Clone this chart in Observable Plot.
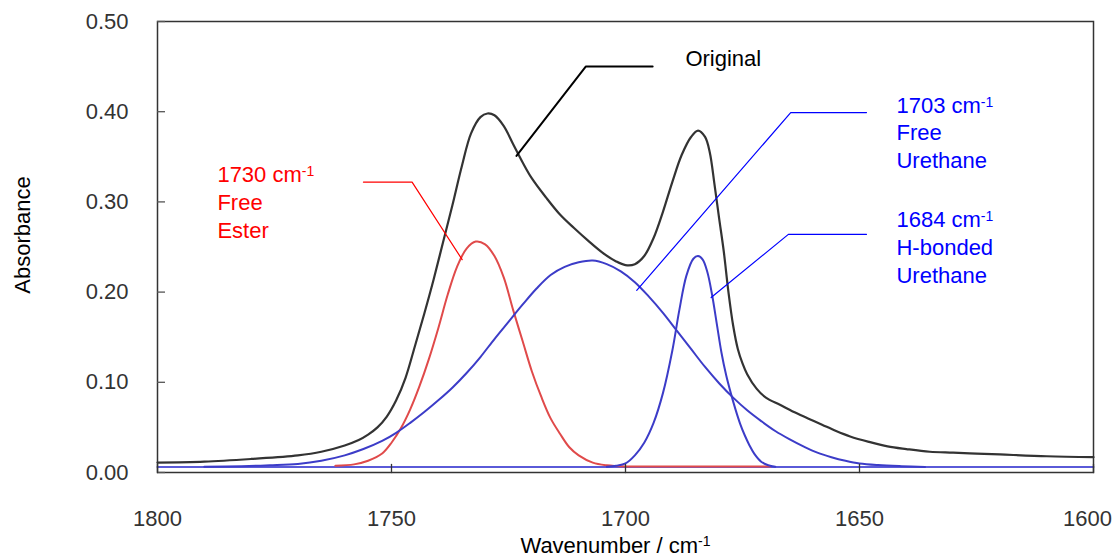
<!DOCTYPE html>
<html><head><meta charset="utf-8">
<script src="https://cdn.jsdelivr.net/npm/d3@7"></script>
<script src="https://cdn.jsdelivr.net/npm/@observablehq/plot@0.6"></script>
<style>body{margin:0;background:#fff}</style>
</head><body><div id="chart"></div>
<script>
// ---- data ----
const xTicks = [1800, 1750, 1700, 1650, 1600];
const yTicks = [0, 0.1, 0.2, 0.3, 0.4, 0.5];

const originalWn  = [1800,1790,1780,1770,1765,1760,1757,1755,1753,1751,1749,1747,1745,1743,1741,1739,1737,1735,1733,1731,1729.5,1728,1726,1724,1722,1720,1717,1714,1711,1708,1705,1702,1700,1698,1696,1694,1692,1690,1688,1686,1684.5,1683,1682,1681,1680,1679,1678,1677,1676,1675,1674,1672,1670,1667,1664,1661,1658,1655,1652,1648,1644,1640,1635,1630,1625,1620,1610,1600];
const originalAbs = [0.011,0.012,0.015,0.019,0.023,0.030,0.036,0.042,0.050,0.062,0.080,0.105,0.140,0.176,0.214,0.255,0.296,0.339,0.376,0.394,0.398,0.396,0.384,0.364,0.344,0.326,0.305,0.286,0.271,0.257,0.244,0.234,0.230,0.231,0.240,0.260,0.289,0.322,0.352,0.372,0.379,0.372,0.355,0.320,0.282,0.245,0.200,0.163,0.137,0.121,0.109,0.093,0.083,0.075,0.067,0.060,0.053,0.046,0.040,0.034,0.029,0.026,0.023,0.022,0.021,0.020,0.018,0.017];

const esterWn  = [1762,1758,1755,1752,1750,1748,1746,1744,1742,1740,1738,1736,1734,1732,1730,1728,1726,1724,1722,1720,1718,1716,1714,1712,1710,1707,1704,1700,1690,1680,1669];
const esterAbs = [0.0075,0.009,0.013,0.021,0.033,0.049,0.070,0.096,0.126,0.160,0.197,0.228,0.248,0.256,0.253,0.240,0.216,0.180,0.146,0.112,0.084,0.060,0.043,0.028,0.019,0.011,0.008,0.0067,0.0067,0.0067,0.0067];

const freeUrethaneWn  = [1790,1782,1776,1770,1765,1760,1756,1752,1749,1746,1743,1740,1737,1734,1731,1728,1725,1722,1719,1716,1713,1710,1707,1704,1701,1698,1695,1692,1689,1686,1683,1680,1677,1674,1671,1668,1665,1662,1659,1656,1653,1650,1646,1641,1636];
const freeUrethaneAbs = [0.0063,0.0070,0.0080,0.0095,0.013,0.019,0.026,0.035,0.044,0.055,0.067,0.080,0.094,0.110,0.128,0.148,0.167,0.186,0.204,0.219,0.228,0.233,0.235,0.231,0.223,0.211,0.195,0.177,0.157,0.137,0.117,0.099,0.083,0.069,0.057,0.046,0.037,0.029,0.022,0.017,0.013,0.010,0.0082,0.0070,0.0062];

const hbondWn  = [1704,1702,1700,1698,1696,1694,1692,1690,1688.5,1687,1685.5,1684.5,1683.5,1682.5,1681.5,1680.5,1679.5,1678.5,1677.5,1676.5,1675.5,1674.5,1673.5,1672.5,1671,1669.5,1668];
const hbondAbs = [0.0065,0.0075,0.010,0.019,0.033,0.055,0.088,0.135,0.180,0.218,0.237,0.240,0.236,0.222,0.197,0.165,0.133,0.108,0.088,0.070,0.054,0.041,0.030,0.021,0.012,0.008,0.0065];

const baselineWn  = [1800, 1600];
const baselineAbs = [0.006, 0.006];

// annotation texts (anchored in data units)
const labelText  = ["Original", "1730 cm", "Free", "Ester", "1703 cm", "Free", "Urethane", "1684 cm", "H-bonded", "Urethane"];
const labelGroup = ["orig", "ester", "ester", "ester", "free", "free", "free", "hb", "hb", "hb"];
const labelWn    = [1687.2, 1787.2, 1787.2, 1787.2, 1642.1, 1642.1, 1642.1, 1642.1, 1642.1, 1642.1];
const labelAbs   = [0.458, 0.330, 0.299, 0.268, 0.406, 0.376, 0.345, 0.280, 0.249, 0.218];

// leader lines
const leaderGroup = ["orig","orig","orig","ester","ester","ester","free","free","free","hb","hb","hb"];
const leaderWn    = [1723.3,1708.5,1694.2, 1756.0,1745.6,1734.9, 1697.6,1664.7,1648.5, 1681.7,1665.2,1648.5];
const leaderAbs   = [0.351,0.450,0.450, 0.322,0.322,0.236, 0.202,0.399,0.399, 0.194,0.264,0.264];

// ---- build tables ----
const zip = (ws, as) => ws.map((w, i) => ({w, a: as[i]}));
const original = zip(originalWn, originalAbs);
const ester = zip(esterWn, esterAbs);
const freeU = zip(freeUrethaneWn, freeUrethaneAbs);
const hbond = zip(hbondWn, hbondAbs);
const baseline = zip(baselineWn, baselineAbs);
const labels = labelText.map((t, i) => ({t, g: labelGroup[i], w: labelWn[i], a: labelAbs[i]}));
const leaders = leaderWn.map((w, i) => ({w, a: leaderAbs[i], g: leaderGroup[i]}));

const colorOf = {orig: "#000000", ester: "#ff0000", free: "#0000ff", hb: "#0000ff"};
const tickUp = {draw(context, l) { context.moveTo(0, 0); context.lineTo(0, -l); }};
const W = 1113, ML = 157, MR = 20;

const chart = Plot.plot({
  width: W,
  height: 559,
  marginLeft: ML,
  marginRight: MR,
  marginTop: 21,
  marginBottom: 87,
  style: {fontFamily: "'Liberation Sans', Arial, sans-serif", fontSize: "22px", background: "#fff", color: "#222"},
  x: {domain: [1800, 1600], label: null},
  y: {domain: [0, 0.5], label: null},
  marks: [
    Plot.line(baseline, {x: "w", y: "a", stroke: "#5a5ad8", strokeWidth: 2}),
    Plot.line(ester, {x: "w", y: "a", stroke: "#e04a4a", strokeWidth: 2, curve: "catmull-rom"}),
    Plot.line(freeU, {x: "w", y: "a", stroke: "#3c3cc8", strokeWidth: 2, curve: "catmull-rom"}),
    Plot.line(hbond, {x: "w", y: "a", stroke: "#3c3cc8", strokeWidth: 2, curve: "catmull-rom"}),
    Plot.line(original, {x: "w", y: "a", stroke: "#333", strokeWidth: 2.2, curve: "catmull-rom"}),
    Plot.line(leaders, {x: "w", y: "a", z: "g", stroke: d => colorOf[d.g], strokeWidth: d => d.g === "orig" ? 2 : 1.2}),
    Plot.text(labels, {x: "w", y: "a", text: "t", fill: d => colorOf[d.g], textAnchor: "start", fontSize: 22}),
    Plot.frame({stroke: "#333", strokeWidth: 1.5}),
    Plot.tickY(yTicks, {y: d => d, insetRight: W - ML - MR - 8, stroke: "#555", strokeWidth: 1.3}),
    Plot.vector(xTicks, {x: d => d, frameAnchor: "bottom", length: 8, anchor: "start", shape: tickUp, stroke: "#333", strokeWidth: 1.3}),
    Plot.axisY({ticks: yTicks, tickSize: 0, tickPadding: 29, tickFormat: d3.format(".2f"), label: null, fontSize: 22, fill: "#333"}),
    Plot.axisX({ticks: xTicks, tickSize: 0, tickPadding: 38, tickFormat: d3.format("d"), label: null, fontSize: 22, fill: "#333"}),
    Plot.text(["Absorbance"], {frameAnchor: "left", textAnchor: "middle", lineAnchor: "middle", dx: -135, dy: -12, rotate: -90, fontSize: 22, fill: "#000"}),
    Plot.text(["Wavenumber / cm"], {frameAnchor: "bottom", textAnchor: "middle", lineAnchor: "middle", dx: -10, dy: 73, fontSize: 22, fill: "#000"})
  ]
});

// superscript "-1" after every "cm"
d3.select(chart).selectAll("text").each(function() {
  if (this.childElementCount === 0 && /cm$/.test(this.textContent)) {
    d3.select(this).append("tspan").attr("dy", "-0.45em").attr("font-size", "14px").text("-1");
  }
});
// keep the last x tick label inside the picture
d3.select(chart).selectAll("text").filter(function() { return this.textContent === "1600"; }).attr("dx", -6);

document.getElementById("chart").appendChild(chart);
</script>
</body></html>
